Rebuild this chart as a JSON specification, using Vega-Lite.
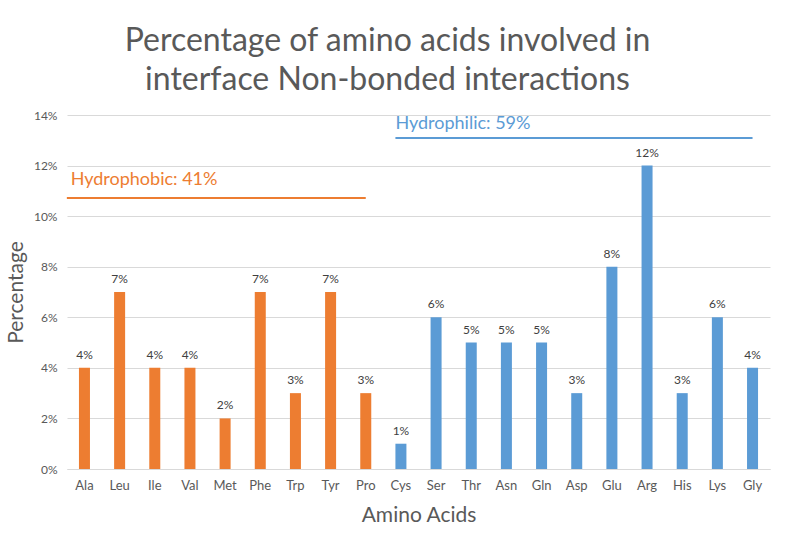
{
  "$schema": "https://vega.github.io/schema/vega-lite/v6.json",
  "width": 703,
  "height": 354,
  "autosize": {"type": "none"},
  "padding": {"left": 67, "top": 115, "right": 30, "bottom": 68},
  "title": {
    "text": ["Percentage of amino acids involved in", "interface Non-bonded interactions"],
    "font": "Lato",
    "fontSize": 32,
    "fontWeight": "normal",
    "color": "#595959",
    "anchor": "middle",
    "frame": "group",
    "dx": -31,
    "offset": 12,
    "lineHeight": 39
  },
  "datasets": {
    "acids": [
      {"acid": "Ala", "pct": 0.04, "group": "Hydrophobic"},
      {"acid": "Leu", "pct": 0.07, "group": "Hydrophobic"},
      {"acid": "Ile", "pct": 0.04, "group": "Hydrophobic"},
      {"acid": "Val", "pct": 0.04, "group": "Hydrophobic"},
      {"acid": "Met", "pct": 0.02, "group": "Hydrophobic"},
      {"acid": "Phe", "pct": 0.07, "group": "Hydrophobic"},
      {"acid": "Trp", "pct": 0.03, "group": "Hydrophobic"},
      {"acid": "Tyr", "pct": 0.07, "group": "Hydrophobic"},
      {"acid": "Pro", "pct": 0.03, "group": "Hydrophobic"},
      {"acid": "Cys", "pct": 0.01, "group": "Hydrophilic"},
      {"acid": "Ser", "pct": 0.06, "group": "Hydrophilic"},
      {"acid": "Thr", "pct": 0.05, "group": "Hydrophilic"},
      {"acid": "Asn", "pct": 0.05, "group": "Hydrophilic"},
      {"acid": "Gln", "pct": 0.05, "group": "Hydrophilic"},
      {"acid": "Asp", "pct": 0.03, "group": "Hydrophilic"},
      {"acid": "Glu", "pct": 0.08, "group": "Hydrophilic"},
      {"acid": "Arg", "pct": 0.12, "group": "Hydrophilic"},
      {"acid": "His", "pct": 0.03, "group": "Hydrophilic"},
      {"acid": "Lys", "pct": 0.06, "group": "Hydrophilic"},
      {"acid": "Gly", "pct": 0.04, "group": "Hydrophilic"}
    ],
    "groups": [
      {"group": "Hydrophobic", "start": "Ala", "end": "Pro", "line": 0.1072, "labely": 0.1143, "label": "Hydrophobic: 41%"},
      {"group": "Hydrophilic", "start": "Cys", "end": "Gly", "line": 0.1309, "labely": 0.1364, "label": "Hydrophilic: 59%"}
    ]
  },
  "encoding": {
    "x": {
      "field": "acid",
      "type": "nominal",
      "sort": null,
      "title": "Amino Acids",
      "scale": {"paddingInner": 0.687, "paddingOuter": 0.34},
      "axis": {
        "labelAngle": 0,
        "labelFont": "Lato",
        "labelFontSize": 13,
        "labelColor": "#595959",
        "labelPadding": 10,
        "ticks": false,
        "domainColor": "#D9D9D9",
        "titleFont": "Lato",
        "titleFontSize": 21,
        "titleFontWeight": "normal",
        "titleColor": "#595959",
        "titlePadding": 12
      }
    }
  },
  "layer": [
    {
      "data": {"name": "acids"},
      "mark": {"type": "bar"},
      "encoding": {
        "y": {
          "field": "pct",
          "type": "quantitative",
          "title": "Percentage",
          "scale": {"domain": [0, 0.14], "nice": false},
          "axis": {
            "values": [0, 0.02, 0.04, 0.06, 0.08, 0.1, 0.12, 0.14],
            "format": ".0%",
            "domain": false,
            "ticks": false,
            "gridColor": "#D9D9D9",
            "labelFont": "Lato",
            "labelFontSize": 12,
            "labelColor": "#595959",
            "labelPadding": 10,
            "titleFont": "Lato",
            "titleFontSize": 21,
            "titleFontWeight": "normal",
            "titleColor": "#595959",
            "titlePadding": 7
          }
        },
        "color": {
          "field": "group",
          "type": "nominal",
          "scale": {"domain": ["Hydrophobic", "Hydrophilic"], "range": ["#ED7D31", "#5B9BD5"]},
          "legend": null
        }
      }
    },
    {
      "data": {"name": "acids"},
      "mark": {"type": "text", "baseline": "bottom", "dy": -6, "font": "Lato", "fontSize": 12, "color": "#404040"},
      "encoding": {
        "y": {"field": "pct", "type": "quantitative", "scale": {"domain": [0, 0.14], "nice": false}},
        "text": {"field": "pct", "type": "quantitative", "format": ".0%"}
      }
    },
    {
      "data": {"name": "groups"},
      "transform": [{"filter": "datum.group === 'Hydrophobic'"}],
      "mark": {"type": "rule", "strokeWidth": 2},
      "encoding": {
        "x": {"field": "start", "type": "nominal", "bandPosition": -1.1},
        "x2": {"field": "end"},
        "y": {"field": "line", "type": "quantitative", "scale": {"domain": [0, 0.14], "nice": false}},
        "color": {"field": "group", "type": "nominal", "legend": null}
      }
    },
    {
      "data": {"name": "groups"},
      "transform": [{"filter": "datum.group === 'Hydrophilic'"}],
      "mark": {"type": "rule", "strokeWidth": 2},
      "encoding": {
        "x": {"field": "start", "type": "nominal", "bandPosition": 0},
        "x2": {"field": "end"},
        "y": {"field": "line", "type": "quantitative", "scale": {"domain": [0, 0.14], "nice": false}},
        "color": {"field": "group", "type": "nominal", "legend": null}
      }
    },
    {
      "data": {"name": "groups"},
      "transform": [{"filter": "datum.group === 'Hydrophobic'"}],
      "mark": {"type": "text", "align": "left", "baseline": "middle", "font": "Lato", "fontSize": 18},
      "encoding": {
        "x": {"field": "start", "type": "nominal", "bandPosition": -0.75},
        "y": {"field": "labely", "type": "quantitative", "scale": {"domain": [0, 0.14], "nice": false}},
        "text": {"field": "label"},
        "color": {"field": "group", "type": "nominal", "legend": null}
      }
    },
    {
      "data": {"name": "groups"},
      "transform": [{"filter": "datum.group === 'Hydrophilic'"}],
      "mark": {"type": "text", "align": "left", "baseline": "middle", "font": "Lato", "fontSize": 18},
      "encoding": {
        "x": {"field": "start", "type": "nominal", "bandPosition": 0},
        "y": {"field": "labely", "type": "quantitative", "scale": {"domain": [0, 0.14], "nice": false}},
        "text": {"field": "label"},
        "color": {"field": "group", "type": "nominal", "legend": null}
      }
    }
  ],
  "config": {"view": {"stroke": null}}
}
